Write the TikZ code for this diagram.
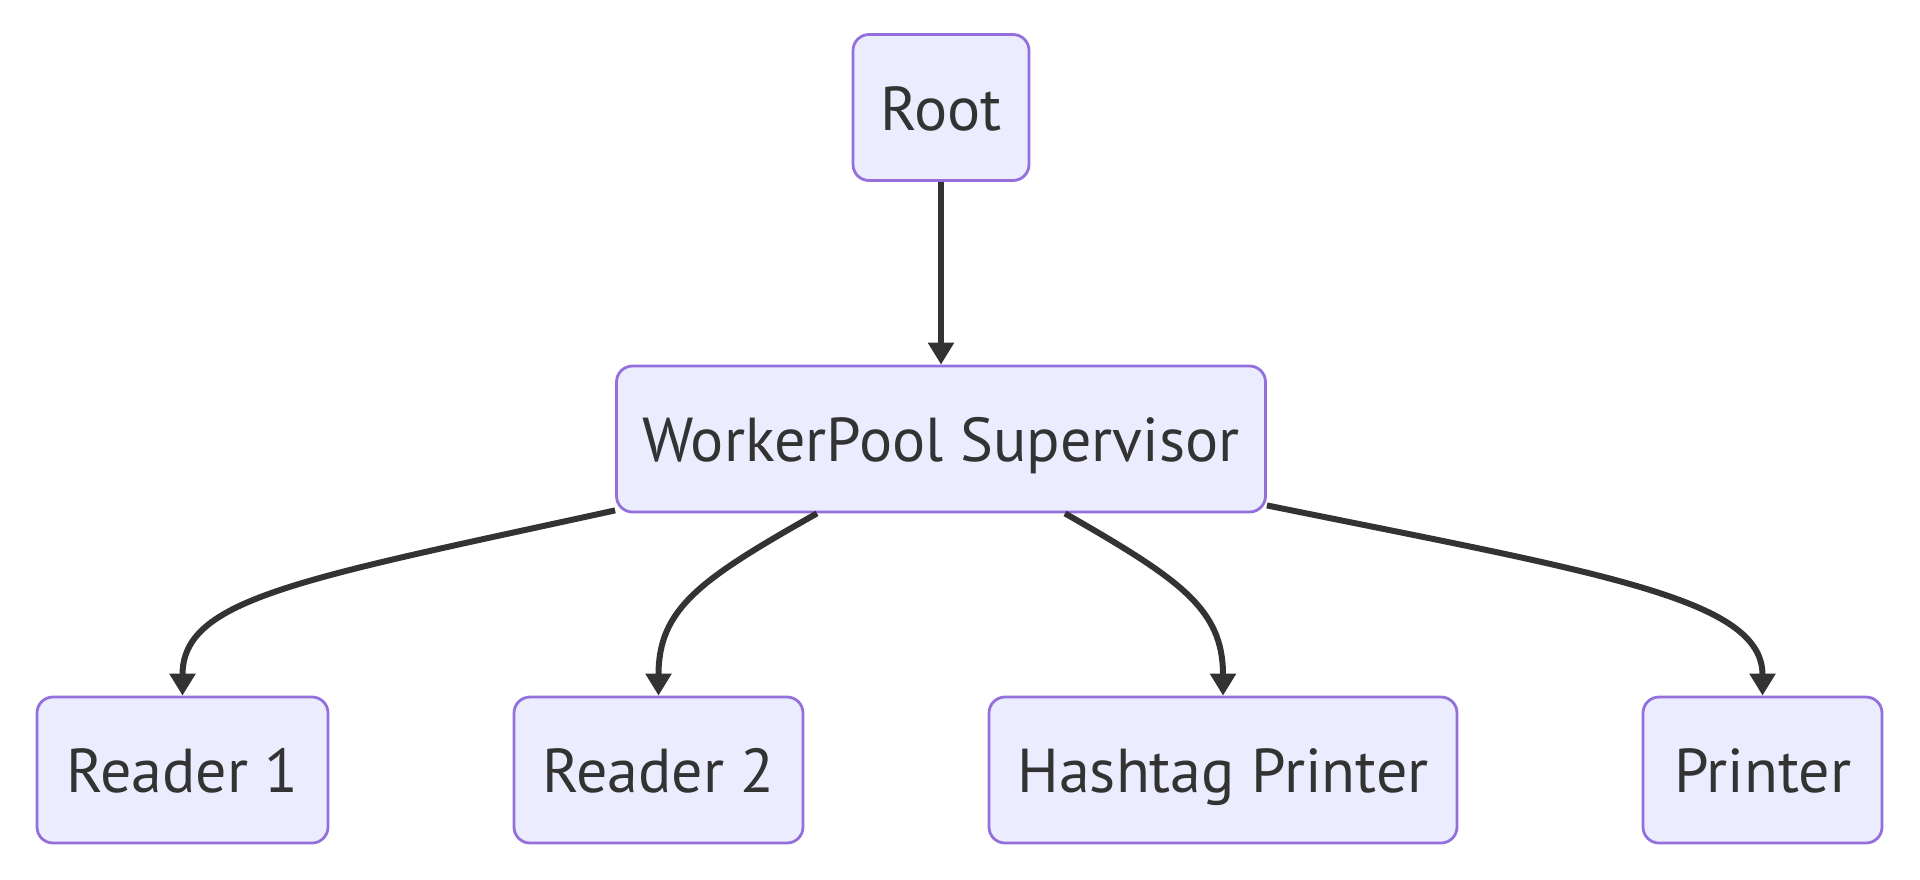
\documentclass[tikz,border=0pt]{standalone}
\usepackage{fontspec}
\setmainfont{PT Sans}
\usetikzlibrary{arrows.meta}
\definecolor{boxfill}{HTML}{ECECFF}
\definecolor{boxline}{HTML}{9370DB}
\definecolor{ink}{HTML}{333333}
\begin{document}
\begin{tikzpicture}[x=0.5pt, y=-0.5pt,
  box/.style={draw=boxline, fill=boxfill, line width=1.4pt, rounded corners=8pt,
              minimum height=73pt, inner sep=0pt, text=ink,
              text height=24pt, text depth=1.5pt,
              font=\fontsize{31}{37}\selectfont},
  link/.style={draw=ink, line width=3pt, -{Triangle[length=11pt,width=12.5pt]}}]
\useasboundingbox (0, 0) rectangle (1920, 879);

\node[box, minimum width=88pt]    (root) at (941, 107.5) {Root};
\node[box, minimum width=324.5pt] (pool) at (941, 439)   {WorkerPool Supervisor};

\node[box, minimum width=145.5pt] (reader1) at (182.5, 770)  {Reader 1};
\node[box, minimum width=144.5pt] (reader2) at (658.5, 770)  {Reader 2};
\node[box, minimum width=234pt]   (hashtag) at (1223, 770)   {Hashtag Printer};
\node[box, minimum width=119.5pt] (printer) at (1762.5, 770) {Printer};

\draw[link] (root) -- (pool);
\draw[link] ([yshift=1.5pt]pool.south west) .. controls +(-316, 69) and +(0, -97) .. (reader1.north);
\draw[link] ([xshift=-62pt]pool.south) .. controls +(-117, 66) and +(0, -87) .. (reader2.north);
\draw[link] ([xshift=62pt]pool.south) .. controls +(115, 66) and +(0, -87) .. (hashtag.north);
\draw[link] ([yshift=4pt]pool.south east) .. controls +(335, 68) and +(0, -97) .. (printer.north);
\end{tikzpicture}
\end{document}
